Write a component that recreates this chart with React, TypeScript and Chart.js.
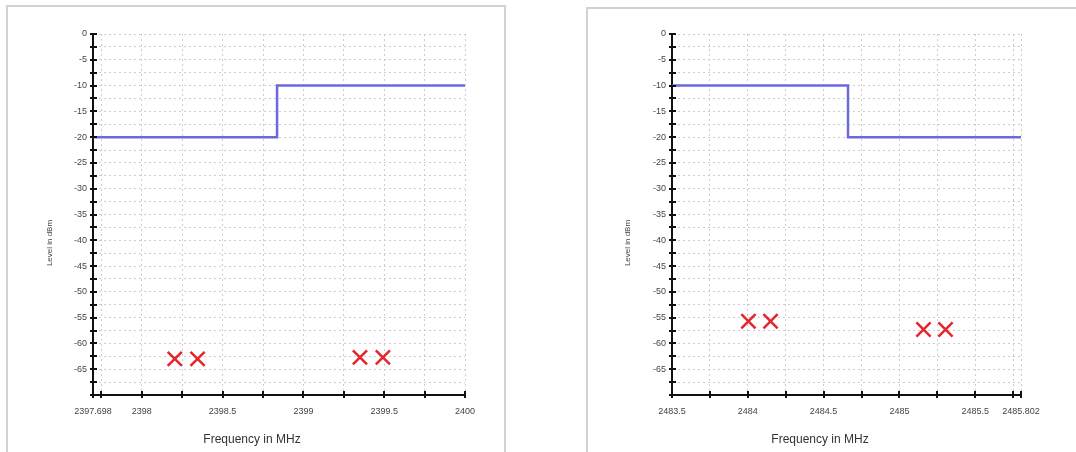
import { useEffect, useRef } from "react";
import { Chart, registerables } from "chart.js";

Chart.register(...registerables);

const FONT = "'Liberation Sans', Arial, Helvetica, sans-serif";

// ---------- data ----------
const yTickValues = [0, -2.5, -5, -7.5, -10, -12.5, -15, -17.5, -20, -22.5, -25, -27.5, -30, -32.5, -35, -37.5, -40, -42.5, -45, -47.5, -50, -52.5, -55, -57.5, -60, -62.5, -65, -67.5, -70];
const yTickLabels = [0, -5, -10, -15, -20, -25, -30, -35, -40, -45, -50, -55, -60, -65];

const leftXTicks = [2397.698, 2397.75, 2398, 2398.25, 2398.5, 2398.75, 2399, 2399.25, 2399.5, 2399.75, 2400];
const leftXLabels = [2397.698, 2398, 2398.5, 2399, 2399.5, 2400];
const leftLimitFreq = [2397.698, 2398.837, 2398.837, 2400];
const leftLimitLevel = [-20, -20, -10, -10];
const leftPeakFreq = [2398.204, 2398.345, 2399.35, 2399.492];
const leftPeakLevel = [-63.0, -63.0, -62.7, -62.7];

const rightXTicks = [2483.5, 2483.75, 2484, 2484.25, 2484.5, 2484.75, 2485, 2485.25, 2485.5, 2485.75, 2485.802];
const rightXLabels = [2483.5, 2484, 2484.5, 2485, 2485.5, 2485.802];
const rightLimitFreq = [2483.5, 2484.661, 2484.661, 2485.802];
const rightLimitLevel = [-10, -10, -20, -20];
const rightPeakFreq = [2484.004, 2484.15, 2485.159, 2485.304];
const rightPeakLevel = [-55.7, -55.7, -57.3, -57.3];

const X_TITLE = "Frequency in MHz";
const Y_TITLE = "Level in dBm";

const decorPlugin = {
  id: "decor",
  afterDraw(chart: any, _args: any, opts: any) {
    const ctx = chart.ctx;
    const xs = chart.scales.x;
    const ys = chart.scales.y;
    const ax = chart.chartArea.left;
    const ay = chart.chartArea.bottom;
    ctx.save();
    ctx.strokeStyle = "#111";
    ctx.lineWidth = 2;
    ctx.beginPath();
    for (const v of opts.yTicks) {
      const py = Math.round(ys.getPixelForValue(v));
      ctx.moveTo(ax - 3, py);
      ctx.lineTo(ax + 4, py);
    }
    for (const v of opts.xTicks) {
      const px = Math.round(xs.getPixelForValue(v));
      ctx.moveTo(px, ay - 4);
      ctx.lineTo(px, ay + 3);
    }
    ctx.stroke();
    ctx.fillStyle = "#333";
    ctx.textAlign = "center";
    ctx.textBaseline = "middle";
    ctx.font = `12px ${FONT}`;
    ctx.fillText(opts.xTitle, opts.xTitleX, opts.xTitleY);
    ctx.translate(opts.yTitleX, opts.yTitleY);
    ctx.rotate(-Math.PI / 2);
    ctx.font = `8px ${FONT}`;
    ctx.fillStyle = "#444";
    ctx.fillText(opts.yTitle, 0, 0);
    ctx.restore();
  },
};

type PanelProps = {
  left: number;
  top: number;
  width: number;
  height: number;
  axisWidth: number;
  padRight: number;
  padTop: number;
  xAxisHeight: number;
  xTicks: number[];
  xLabels: number[];
  limitFreq: number[];
  limitLevel: number[];
  peakFreq: number[];
  peakLevel: number[];
  xTitleX: number;
  xTitleY: number;
  yTitleX: number;
  yTitleY: number;
};

function Panel(p: PanelProps) {
  const ref = useRef<HTMLCanvasElement>(null);
  useEffect(() => {
    if (!ref.current) return;
    const gridColor = "#cdcdcd";
    const chart = new Chart(ref.current, {
      type: "scatter",
      data: {
        datasets: [
          {
            data: p.limitFreq.map((f, i) => ({ x: f, y: p.limitLevel[i] })),
            showLine: true,
            borderColor: "#6a6ae0",
            borderWidth: 2.5,
            pointRadius: 0,
            fill: false,
          },
          {
            data: p.peakFreq.map((f, i) => ({ x: f, y: p.peakLevel[i] })),
            showLine: false,
            pointStyle: "crossRot",
            pointRadius: 10,
            borderColor: "#e3262c",
            backgroundColor: "#e3262c",
            pointBorderWidth: 2.5,
          } as any,
        ],
      },
      options: {
        animation: false,
        responsive: false,
        devicePixelRatio: 1,
        layout: { padding: { left: 0, right: p.padRight, top: p.padTop, bottom: 0 } },
        plugins: {
          legend: { display: false },
          tooltip: { enabled: false },
          decor: {
            yTicks: yTickValues,
            xTicks: p.xTicks,
            xTitle: X_TITLE,
            yTitle: Y_TITLE,
            xTitleX: p.xTitleX,
            xTitleY: p.xTitleY,
            yTitleX: p.yTitleX,
            yTitleY: p.yTitleY,
          },
        } as any,
        scales: {
          x: {
            type: "linear",
            min: p.xTicks[0],
            max: p.xTicks[p.xTicks.length - 1],
            afterBuildTicks: (s: any) => {
              s.ticks = p.xTicks.map((v) => ({ value: v }));
            },
            afterFit: (s: any) => {
              s.height = p.xAxisHeight;
            },
            ticks: {
              autoSkip: false,
              maxRotation: 0,
              padding: 11,
              color: "#444",
              font: { family: FONT, size: 9 },
              callback: (v: any) => (p.xLabels.includes(Number(v)) ? String(v) : ""),
            },
            grid: { color: gridColor, lineWidth: 1, drawTicks: false },
            border: { display: true, color: "#111", width: 2, dash: [2, 3] },
          },
          y: {
            type: "linear",
            min: -70,
            max: 0,
            afterBuildTicks: (s: any) => {
              s.ticks = yTickValues.map((v) => ({ value: v }));
            },
            afterFit: (s: any) => {
              s.width = p.axisWidth;
            },
            ticks: {
              autoSkip: false,
              padding: 6,
              color: "#444",
              font: { family: FONT, size: 9 },
              callback: (v: any) => (yTickLabels.includes(Number(v)) ? String(v) : ""),
            },
            grid: { color: gridColor, lineWidth: 1, drawTicks: false },
            border: { display: true, color: "#111", width: 2, dash: [2, 3] },
          },
        },
      },
      plugins: [decorPlugin as any],
    });
    return () => chart.destroy();
  }, []);
  return (
    <canvas
      ref={ref}
      width={p.width}
      height={p.height}
      style={{ position: "absolute", left: p.left, top: p.top, width: p.width, height: p.height }}
    />
  );
}

export default function App() {
  return (
    <div style={{ position: "absolute", left: 0, top: 0, width: 1076, height: 452, overflow: "hidden", background: "#fff" }}>
      <div style={{ position: "absolute", left: 6, top: 5, width: 500, height: 480, border: "2px solid #d2d2d2", boxSizing: "border-box" }} />
      <div style={{ position: "absolute", left: 586, top: 7, width: 500, height: 480, border: "2px solid #d2d2d2", boxSizing: "border-box" }} />
      <Panel
        left={9}
        top={8}
        width={497}
        height={444}
        axisWidth={84}
        padRight={41}
        padTop={26}
        xAxisHeight={57}
        xTicks={leftXTicks}
        xLabels={leftXLabels}
        limitFreq={leftLimitFreq}
        limitLevel={leftLimitLevel}
        peakFreq={leftPeakFreq}
        peakLevel={leftPeakLevel}
        xTitleX={243}
        xTitleY={432}
        yTitleX={41}
        yTitleY={235}
      />
      <Panel
        left={589}
        top={10}
        width={487}
        height={442}
        axisWidth={83}
        padRight={55}
        padTop={24}
        xAxisHeight={57}
        xTicks={rightXTicks}
        xLabels={rightXLabels}
        limitFreq={rightLimitFreq}
        limitLevel={rightLimitLevel}
        peakFreq={rightPeakFreq}
        peakLevel={rightPeakLevel}
        xTitleX={231}
        xTitleY={430}
        yTitleX={39}
        yTitleY={233}
      />
    </div>
  );
}
